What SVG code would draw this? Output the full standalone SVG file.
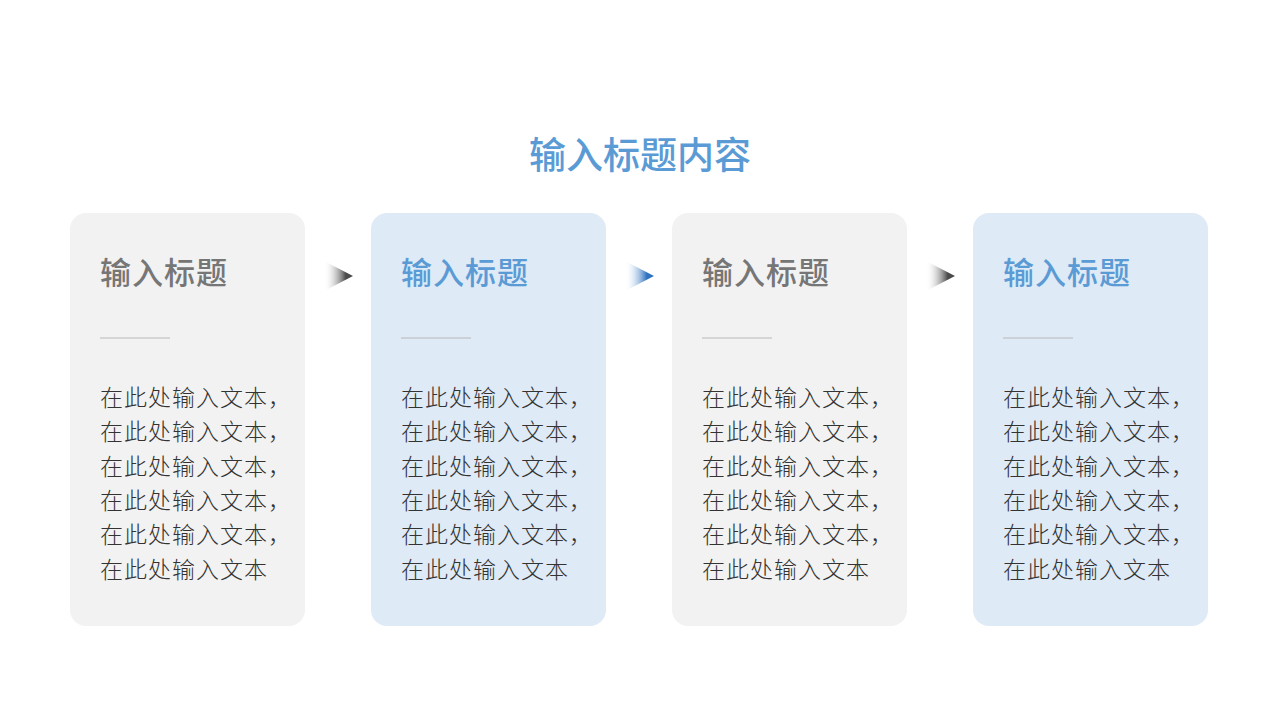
<svg xmlns="http://www.w3.org/2000/svg" width="1280" height="720" viewBox="0 0 1280 720">
<defs>
<linearGradient id="gGray" x1="0" y1="0" x2="1" y2="0"><stop offset="0" stop-color="#ffffff" stop-opacity="0"/><stop offset="0.75" stop-color="#4a4a4a"/><stop offset="1" stop-color="#4a4a4a"/></linearGradient>
<linearGradient id="gBlue" x1="0" y1="0" x2="1" y2="0"><stop offset="0" stop-color="#ffffff" stop-opacity="0"/><stop offset="0.75" stop-color="#2f73c0"/><stop offset="1" stop-color="#2f73c0"/></linearGradient>
<style>
.cg{fill:#f2f2f2}.cb{fill:#deeaf6}
.h{font-family:"Noto Sans CJK SC",sans-serif;font-size:31px;font-weight:500;letter-spacing:1px}
.hg{fill:#767676}.hb{fill:#5b9bd5}
.div{stroke:#b8b8b8;stroke-width:1.2}
.t{font-family:"Noto Sans CJK SC",sans-serif;font-size:23px;fill:#333;font-weight:300;letter-spacing:1px}
.title{font-family:"Noto Sans CJK SC",sans-serif;font-size:37px;font-weight:500;fill:#5b9bd5}
</style>
</defs>
<rect width="1280" height="720" fill="#fff"/>
<text class="title" x="640" y="169" text-anchor="middle">输入标题内容</text>
<g id="card1">
<rect class="cg" x="70" y="213" width="235" height="413" rx="16"/>
<text class="h hg" x="100" y="284">输入标题</text>
<line class="div" x1="100" y1="338" x2="170" y2="338"/>
<text class="t" x="100"><tspan x="100" y="406">在此处输入文本，</tspan><tspan x="100" y="440">在此处输入文本，</tspan><tspan x="100" y="475">在此处输入文本，</tspan><tspan x="100" y="509">在此处输入文本，</tspan><tspan x="100" y="543">在此处输入文本，</tspan><tspan x="100" y="578">在此处输入文本</tspan></text>
</g>
<g id="card2">
<rect class="cb" x="371" y="213" width="235" height="413" rx="16"/>
<text class="h hb" x="401" y="284">输入标题</text>
<line class="div" x1="401" y1="338" x2="471" y2="338"/>
<text class="t" x="401"><tspan x="401" y="406">在此处输入文本，</tspan><tspan x="401" y="440">在此处输入文本，</tspan><tspan x="401" y="475">在此处输入文本，</tspan><tspan x="401" y="509">在此处输入文本，</tspan><tspan x="401" y="543">在此处输入文本，</tspan><tspan x="401" y="578">在此处输入文本</tspan></text>
</g>
<g id="card3">
<rect class="cg" x="672" y="213" width="235" height="413" rx="16"/>
<text class="h hg" x="702" y="284">输入标题</text>
<line class="div" x1="702" y1="338" x2="772" y2="338"/>
<text class="t" x="702"><tspan x="702" y="406">在此处输入文本，</tspan><tspan x="702" y="440">在此处输入文本，</tspan><tspan x="702" y="475">在此处输入文本，</tspan><tspan x="702" y="509">在此处输入文本，</tspan><tspan x="702" y="543">在此处输入文本，</tspan><tspan x="702" y="578">在此处输入文本</tspan></text>
</g>
<g id="card4">
<rect class="cb" x="973" y="213" width="235" height="413" rx="16"/>
<text class="h hb" x="1003" y="284">输入标题</text>
<line class="div" x1="1003" y1="338" x2="1073" y2="338"/>
<text class="t" x="1003"><tspan x="1003" y="406">在此处输入文本，</tspan><tspan x="1003" y="440">在此处输入文本，</tspan><tspan x="1003" y="475">在此处输入文本，</tspan><tspan x="1003" y="509">在此处输入文本，</tspan><tspan x="1003" y="543">在此处输入文本，</tspan><tspan x="1003" y="578">在此处输入文本</tspan></text>
</g>
<g id="connectors">
<polygon points="324,261 353,276 324,291" fill="url(#gGray)"/>
<polygon points="625,261 654,276 625,291" fill="url(#gBlue)"/>
<polygon points="926,261 955,276 926,291" fill="url(#gGray)"/>
</g>
</svg>
